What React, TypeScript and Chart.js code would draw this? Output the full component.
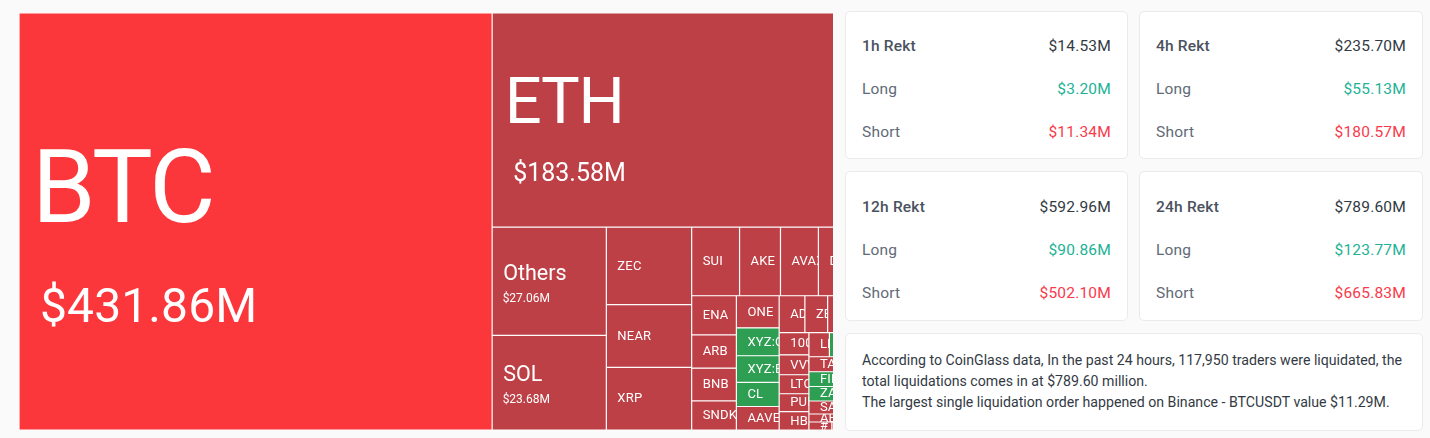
import React, { useEffect, useRef } from "react";
import { Chart, registerables, DatasetController } from "chart.js";

// ---------- data ----------
const symbols = [
  "BTC", "ETH", "Others", "SOL", "ZEC", "NEAR", "XRP",
  "SUI", "AKE", "AVAX", "DOGE", "HYPE",
  "ENA", "ARB", "BNB", "SNDK",
  "ONE", "XYZ:CL", "XYZ:BRENT", "CL", "AAVE",
  "ADA", "ZEN", "TAO", "WIF",
  "100PEPE", "VVV", "LTC", "PUMP", "HBAR",
  "LIT", "XPL", "TAIKO", "FIL", "ZAMA", "SAND", "AERO", "#TSLA", "WLD",
];
const values = [
  431.86, 183.58, 27.06, 23.68, 14.5, 11.7, 11.7,
  7.2, 6.15, 5.7, 5.1, 4.75,
  3.84, 3.25, 3.2, 2.85,
  3.0, 2.62, 2.5, 2.25, 2.2,
  2.08, 1.84, 1.68, 2.87,
  1.44, 1.3, 1.24, 1.16, 1.2,
  1.08, 0.88, 1.22, 1.2, 1.18, 1.06, 0.65, 0.65, 8.06,
];
const longHeavy = ["XYZ:CL", "XYZ:BRENT", "CL", "FIL", "ZAMA", "XPL"];
// nesting of the treemap: every level alternates between columns and rows
const tree: any = [
  "BTC",
  [
    "ETH",
    [
      ["Others", "SOL"],
      ["ZEC", "NEAR", "XRP"],
      [
        ["SUI", "AKE", "AVAX", "DOGE", "HYPE"],
        [
          ["ENA", "ARB", "BNB", "SNDK"],
          ["ONE", "XYZ:CL", "XYZ:BRENT", "CL", "AAVE"],
          [
            ["ADA", "ZEN", "TAO", "WIF"],
            [
              ["100PEPE", "VVV", "LTC", "PUMP", "HBAR"],
              [["LIT", "XPL"], "TAIKO", "FIL", "ZAMA", "SAND", "AERO", "#TSLA"],
              "WLD",
            ],
          ],
        ],
      ],
    ],
  ],
];
const cardTitles = ["1h Rekt", "4h Rekt", "12h Rekt", "24h Rekt"];
const cardTotals = ["$14.53M", "$235.70M", "$592.96M", "$789.60M"];
const cardLongs = ["$3.20M", "$55.13M", "$90.86M", "$123.77M"];
const cardShorts = ["$11.34M", "$180.57M", "$502.10M", "$665.83M"];
const infoLines = [
  "According to CoinGlass data, In the past 24 hours, 117,950 traders were liquidated, the",
  "total liquidations comes in at $789.60 million.",
  "The largest single liquidation order happened on Binance - BTCUSDT value $11.29M.",
];

// ---------- styles ----------
const FONT = "Roboto, sans-serif";
const RED_TOP = "#fb373c";
const RED = "#be4047";
const GREEN = "#2e9e52";
const big: Record<string, any> = {
  BTC: { size: 102, sp: -2.2, dx: 13, base: 209, vSize: 48, vSp: 0.1, vdx: 21, vBase: 309 },
  ETH: { size: 65, sp: -1.2, dx: 12.5, base: 110, vSize: 25, vSp: 0, vdx: 21, vBase: 168 },
  Others: { size: 21.5, sp: 0, dx: 11, base: 53, vSize: 12, vSp: 0, vdx: 10.5, vBase: 75 },
  SOL: { size: 21.5, sp: 0, dx: 11, base: 46, vSize: 12, vSp: 0, vdx: 10.5, vBase: 68 },
};

function layoutTree(node: any, x0: number, x1: number, y0: number, y1: number, depth: number, out: Record<string, number[]>) {
  if (typeof node === "string") {
    out[node] = [x0, x1, y0, y1];
    return;
  }
  const weight = (n: any): number =>
    typeof n === "string" ? values[symbols.indexOf(n)] : n.reduce((s: number, c: any) => s + weight(c), 0);
  const total = weight(node);
  let acc = 0;
  for (const child of node) {
    const a = acc / total;
    acc += weight(child);
    const b = acc / total;
    if (depth % 2 === 0) layoutTree(child, x0 + (x1 - x0) * a, x0 + (x1 - x0) * b, y0, y1, depth + 1, out);
    else layoutTree(child, x0, x1, y0 + (y1 - y0) * a, y0 + (y1 - y0) * b, depth + 1, out);
  }
}

class TreemapController extends DatasetController {
  static id = "treemap";
  static defaults = { datasetElementType: false, dataElementType: "bar" };
  update(mode: any) {
    const meta = (this as any)._cachedMeta;
    (this as any).updateElements(meta.data, 0, meta.data.length, mode);
  }
  updateElements(cells: any[], start: number, count: number, mode: any) {
    const self = this as any;
    const { xScale, yScale } = self._cachedMeta;
    const total = values.reduce((s, v) => s + v, 0);
    const rects: Record<string, number[]> = {};
    layoutTree(tree, 0, total, 0, 1, 0, rects);
    for (let i = start; i < start + count; i++) {
      const [x0, x1, y0, y1] = rects[symbols[i]];
      const l = xScale.getPixelForValue(x0);
      const r = xScale.getPixelForValue(x1);
      const t = yScale.getPixelForValue(y0);
      const b = yScale.getPixelForValue(y1);
      self.updateElement(
        cells[i],
        i,
        {
          x: (l + r) / 2,
          y: t,
          base: b,
          width: r - l,
          height: b - t,
          horizontal: false,
          borderSkipped: {},
          enableBorderRadius: false,
          inflateAmount: 0,
          options: self.resolveDataElementOptions(i, mode),
        },
        mode
      );
    }
  }
}

const labelPlugin = {
  id: "treemapLabels",
  afterDatasetsDraw(chart: any) {
    const { ctx } = chart;
    chart.getDatasetMeta(0).data.forEach((el: any, i: number) => {
      const name = symbols[i];
      const left = el.x - el.width / 2;
      const top = el.y;
      const h = el.base - el.y;
      ctx.save();
      ctx.beginPath();
      ctx.rect(left, top, el.width, h);
      ctx.clip();
      ctx.fillStyle = "#ffffff";
      const s = big[name];
      if (s) {
        ctx.textBaseline = "alphabetic";
        ctx.font = `400 ${s.size}px ${FONT}`;
        ctx.letterSpacing = `${s.sp}px`;
        ctx.fillText(name, left + s.dx, top + s.base);
        ctx.font = `400 ${s.vSize}px ${FONT}`;
        ctx.letterSpacing = `${s.vSp}px`;
        ctx.fillText(`$${values[i].toFixed(2)}M`, left + s.vdx, top + s.vBase);
      } else {
        ctx.textBaseline = "middle";
        ctx.font = `400 13px ${FONT}`;
        ctx.letterSpacing = "0.2px";
        ctx.fillText(name, left + 11, top + h / 2 + 0.5);
      }
      ctx.restore();
    });
  },
};

Chart.register(...registerables, TreemapController as any);

const cardPos = [
  { left: 845, top: 11, width: 283, height: 148, shift: 0 },
  { left: 1139, top: 11, width: 284, height: 148, shift: 0 },
  { left: 845, top: 171, width: 283, height: 150, shift: 1 },
  { left: 1139, top: 171, width: 284, height: 150, shift: 1 },
];

function Row({ y, label, value, labelColor, valueColor, weight }: any) {
  return (
    <div style={{ position: "absolute", left: 16, right: 16, top: y - 11, height: 22, lineHeight: "22px", display: "flex", justifyContent: "space-between", fontSize: 15.5 }}>
      <span style={{ color: labelColor, fontWeight: weight, letterSpacing: 0.2 }}>{label}</span>
      <span style={{ color: valueColor, letterSpacing: 0.2 }}>{value}</span>
    </div>
  );
}

export default function App() {
  const ref = useRef<HTMLCanvasElement>(null);
  useEffect(() => {
    const chart = new Chart(ref.current as any, {
      type: "treemap" as any,
      data: {
        labels: symbols,
        datasets: [
          {
            data: values,
            backgroundColor: (c: any) =>
              c.dataIndex === 0 ? RED_TOP : longHeavy.includes(symbols[c.dataIndex]) ? GREEN : RED,
            borderColor: "rgba(255,255,255,0.85)",
            borderWidth: 0.6,
            borderRadius: 0,
          } as any,
        ],
      },
      options: {
        animation: false,
        responsive: false,
        events: [],
        layout: { padding: 0 },
        plugins: { legend: { display: false }, tooltip: { enabled: false } },
        scales: {
          x: { type: "linear", display: false, min: 0, max: 743 },
          y: { type: "linear", display: false, min: 0, max: 1, reverse: true },
        },
      } as any,
      plugins: [labelPlugin],
    });
    return () => chart.destroy();
  }, []);

  return (
    <div style={{ position: "fixed", inset: 0, background: "#fafafa", overflow: "hidden", fontFamily: FONT }}>
      <canvas ref={ref} width={814} height={417} style={{ position: "absolute", left: 19, top: 13, width: 814, height: 417, display: "block" }} />
      {cardTitles.map((title, i) => {
        const { shift, ...pos } = cardPos[i];
        return (
          <div key={title} style={{ position: "absolute", boxSizing: "border-box", ...pos, background: "#fff", border: "1px solid #ebebeb", borderRadius: 5 }}>
            <Row y={34 + shift} label={title} value={cardTotals[i]} labelColor="#4a5260" valueColor="#333a44" weight={500} />
            <Row y={77 + shift} label="Long" value={cardLongs[i]} labelColor="#626a77" valueColor="#22b296" weight={400} />
            <Row y={120 + shift} label="Short" value={cardShorts[i]} labelColor="#626a77" valueColor="#f93a4b" weight={400} />
          </div>
        );
      })}
      <div style={{ position: "absolute", boxSizing: "border-box", left: 845, top: 333, width: 578, height: 98, background: "#fff", border: "1px solid #ebebeb", borderRadius: 5, padding: "16px 16px", fontSize: 14.15, lineHeight: "21px", color: "#333a44", whiteSpace: "nowrap" }}>
        {infoLines.map((l) => (
          <div key={l}>{l}</div>
        ))}
      </div>
    </div>
  );
}
